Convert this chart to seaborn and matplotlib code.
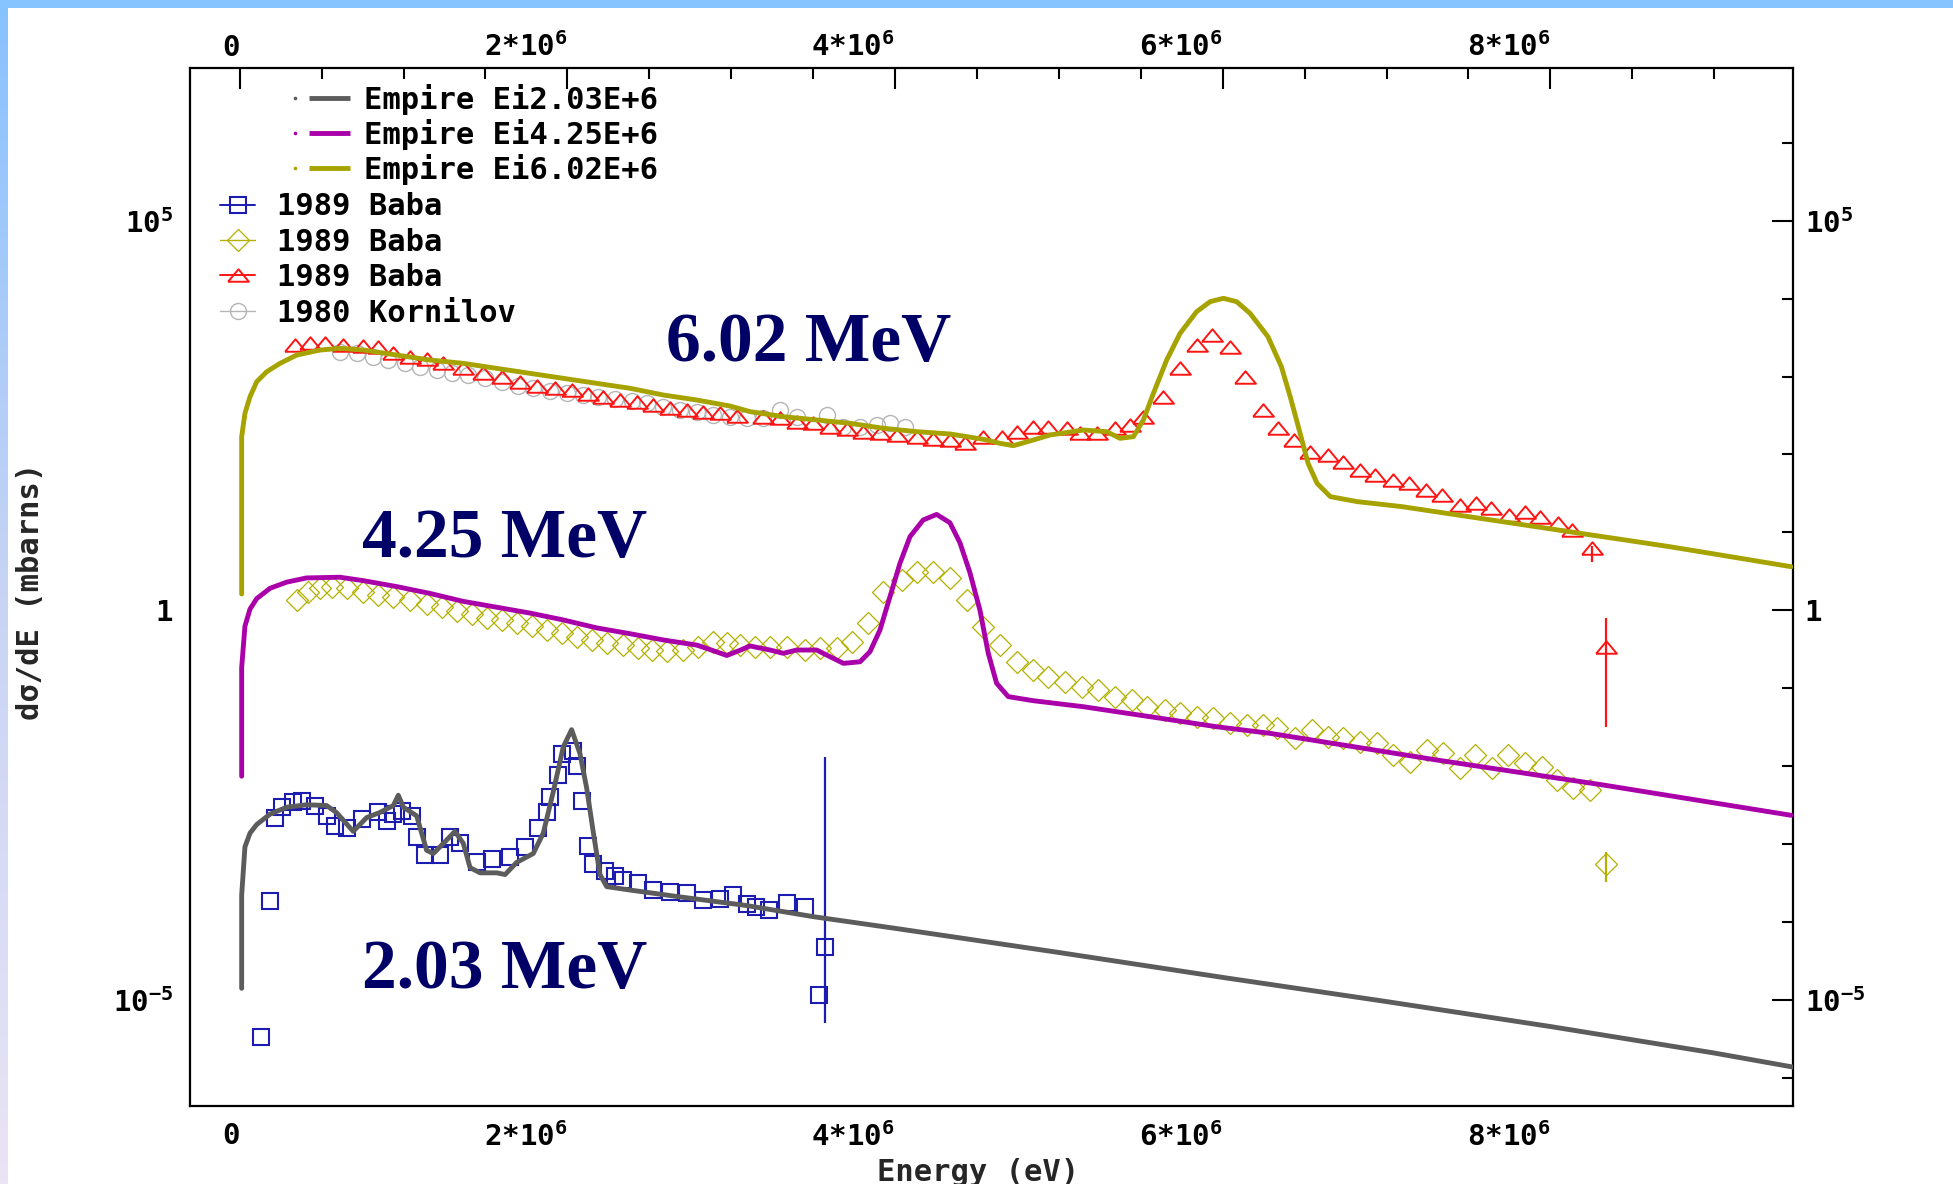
import numpy as np
import matplotlib
matplotlib.use("Agg")
import matplotlib.pyplot as plt
import seaborn as sns
from matplotlib.lines import Line2D
from matplotlib.patches import Rectangle
from matplotlib.colors import LinearSegmentedColormap
from matplotlib.ticker import FixedLocator, FixedFormatter, NullFormatter, NullLocator

# Outgoing neutron energy in MeV; cross sections as log10(dσ/dE / mbarns)
empire_203_E = [0.012, 0.012, 0.032, 0.063, 0.104, 0.185, 0.287, 0.408, 0.53, 0.59,
                0.693, 0.775, 0.856, 0.938, 0.968, 0.999, 1.08, 1.141, 1.182, 1.243,
                1.314, 1.365, 1.406, 1.467, 1.569, 1.62, 1.69, 1.792, 1.853, 1.914,
                1.975, 2.026, 2.077, 2.118, 2.159, 2.199, 2.24, 2.383, 2.688, 3.095,
                3.5, 4.0, 5.0, 6.0, 7.0, 8.0, 9.0, 9.48]
empire_203_lg = [-4.85, -3.655, -3.035, -2.858, -2.748, -2.615, -2.526, -2.495, -2.504, -2.593,
                 -2.836, -2.659, -2.593, -2.504, -2.372, -2.526, -2.637, -3.079, -3.12, -2.991,
                 -2.836, -2.991, -3.301, -3.368, -3.368, -3.39, -3.235, -3.12, -2.858, -2.327,
                 -1.752, -1.531, -1.84, -2.283, -2.858, -3.39, -3.545, -3.589, -3.677, -3.788,
                 -3.93, -4.08, -4.39, -4.71, -5.02, -5.34, -5.68, -5.86]

empire_425_E = [0.012, 0.012, 0.032, 0.063, 0.104, 0.185, 0.287, 0.408, 0.612, 0.755,
                0.958, 1.162, 1.365, 1.569, 1.772, 1.975, 2.179, 2.383, 2.586, 2.79,
                2.871, 2.973, 3.054, 3.115, 3.237, 3.318, 3.4, 3.522, 3.603, 3.685,
                3.786, 3.847, 3.908, 3.969, 4.03, 4.091, 4.172, 4.254, 4.335, 4.396,
                4.457, 4.518, 4.569, 4.62, 4.691, 4.843, 5.148, 5.555, 5.962, 6.289,
                7.306, 8.323, 9.47]
empire_425_lg = [-2.128, -0.735, -0.203, 0.017, 0.151, 0.283, 0.362, 0.416, 0.425, 0.381,
                 0.305, 0.217, 0.115, 0.04, -0.035, -0.123, -0.225, -0.3, -0.38, -0.446,
                 -0.503, -0.579, -0.512, -0.457, -0.509, -0.551, -0.509, -0.509, -0.595, -0.68,
                 -0.66, -0.53, -0.252, 0.175, 0.604, 0.945, 1.16, 1.231, 1.124, 0.868,
                 0.484, 0.004, -0.551, -0.936, -1.107, -1.159, -1.236, -1.364, -1.493, -1.578,
                 -1.92, -2.241, -2.63]

empire_602_E = [0.012, 0.012, 0.032, 0.063, 0.104, 0.165, 0.246, 0.348, 0.49, 0.612,
                0.755, 0.958, 1.162, 1.365, 1.569, 1.772, 1.975, 2.179, 2.383, 2.586,
                2.79, 2.992, 3.115, 3.318, 3.522, 3.725, 3.929, 4.132, 4.336, 4.539,
                4.641, 4.722, 4.844, 4.946, 5.15, 5.292, 5.373, 5.455, 5.516, 5.577,
                5.658, 5.74, 5.841, 5.923, 6.004, 6.085, 6.167, 6.276, 6.358, 6.412,
                6.467, 6.521, 6.576, 6.657, 6.821, 7.093, 7.366, 7.638, 7.911, 8.183,
                8.456, 8.728, 8.914, 9.47]
empire_602_lg = [0.21, 2.228, 2.528, 2.742, 2.934, 3.062, 3.169, 3.276, 3.34, 3.362,
                 3.34, 3.276, 3.212, 3.169, 3.105, 3.041, 2.977, 2.913, 2.849, 2.763,
                 2.699, 2.622, 2.55, 2.485, 2.443, 2.4, 2.336, 2.293, 2.263, 2.195,
                 2.143, 2.113, 2.186, 2.25, 2.314, 2.293, 2.207, 2.229, 2.443, 2.785,
                 3.212, 3.555, 3.833, 3.961, 4.004, 3.961, 3.811, 3.512, 3.127, 2.742,
                 2.314, 1.887, 1.63, 1.459, 1.395, 1.331, 1.245, 1.16, 1.074, 0.988,
                 0.903, 0.817, 0.753, 0.56]

baba_203_E = [0.133, 0.186, 0.217, 0.256, 0.328, 0.378, 0.46, 0.53, 0.582, 0.653,
              0.744, 0.846, 0.897, 0.938, 0.99, 1.049, 1.08, 1.131, 1.223, 1.284,
              1.345, 1.447, 1.538, 1.65, 1.741, 1.822, 1.873, 1.894, 1.944, 1.965,
              2.036, 2.057, 2.087, 2.128, 2.159, 2.23, 2.29, 2.34, 2.43, 2.525,
              2.626, 2.728, 2.829, 2.931, 3.012, 3.095, 3.151, 3.233, 3.341, 3.45,
              3.538, 3.573]
baba_203_lg = [-5.48, -3.723, -2.659, -2.526, -2.46, -2.44, -2.504, -2.637, -2.77, -2.79,
               -2.68, -2.593, -2.70, -2.61, -2.57, -2.637, -2.902, -3.14, -3.14, -2.902,
               -2.99, -3.235, -3.19, -3.17, -3.04, -2.79, -2.593, -2.396, -2.11, -1.84,
               -1.80, -2.0, -2.44, -3.02, -3.26, -3.346, -3.412, -3.456, -3.50, -3.589,
               -3.61, -3.633, -3.72, -3.70, -3.655, -3.766, -3.80, -3.845, -3.76, -3.80,
               -4.936, -4.316]

baba_425_E = [0.348, 0.419, 0.49, 0.561, 0.653, 0.755, 0.846, 0.938, 1.039, 1.141,
              1.233, 1.324, 1.416, 1.507, 1.599, 1.691, 1.782, 1.874, 1.965, 2.057,
              2.148, 2.24, 2.342, 2.433, 2.515, 2.606, 2.708, 2.8, 2.891, 2.972,
              3.054, 3.145, 3.237, 3.339, 3.451, 3.542, 3.644, 3.736, 3.837, 3.929,
              4.041, 4.132, 4.234, 4.336, 4.437, 4.539, 4.641, 4.743, 4.844, 4.936,
              5.038, 5.139, 5.241, 5.343, 5.444, 5.536, 5.648, 5.739, 5.841, 5.943,
              6.045, 6.147, 6.248, 6.33, 6.442, 6.543, 6.645, 6.737, 6.838, 6.94,
              7.042, 7.143, 7.245, 7.347, 7.449, 7.54, 7.642, 7.744, 7.846, 7.947,
              8.039, 8.14, 8.242, 8.34]
baba_425_lg = [0.129, 0.239, 0.284, 0.306, 0.284, 0.239, 0.195, 0.173, 0.129, 0.084,
               0.040, -0.004, -0.048, -0.093, -0.124, -0.159, -0.203, -0.247, -0.292, -0.336,
               -0.380, -0.424, -0.447, -0.478, -0.513, -0.522, -0.504, -0.469, -0.402, -0.424,
               -0.447, -0.466, -0.466, -0.466, -0.509, -0.487, -0.487, -0.402, -0.166, 0.240,
               0.390, 0.496, 0.496, 0.411, 0.133, -0.209, -0.444, -0.658, -0.765, -0.851,
               -0.915, -0.979, -1.022, -1.107, -1.150, -1.236, -1.279, -1.321, -1.364, -1.386,
               -1.45, -1.471, -1.471, -1.514, -1.642, -1.535, -1.621, -1.642, -1.685, -1.707,
               -1.856, -1.942, -1.792, -1.835, -2.027, -1.856, -2.027, -1.856, -1.963, -2.006,
               -2.177, -2.284, -2.305, -3.255]

baba_602_E = [0.338, 0.429, 0.521, 0.633, 0.755, 0.846, 0.938, 1.04, 1.141, 1.243,
              1.365, 1.487, 1.599, 1.711, 1.813, 1.925, 2.026, 2.128, 2.22, 2.321,
              2.423, 2.525, 2.627, 2.728, 2.83, 2.932, 3.033, 3.196, 3.298, 3.4,
              3.502, 3.603, 3.705, 3.807, 3.908, 4.01, 4.132, 4.234, 4.336, 4.427,
              4.539, 4.651, 4.743, 4.844, 4.936, 5.048, 5.129, 5.231, 5.343, 5.434,
              5.516, 5.638, 5.74, 5.841, 5.935, 6.044, 6.134, 6.243, 6.336, 6.434,
              6.535, 6.644, 6.734, 6.835, 6.93, 7.039, 7.134, 7.243, 7.339, 7.448,
              7.543, 7.638, 7.747, 7.843, 7.938, 8.047, 8.129, 8.251, 8.34]
baba_602_lg = [3.405, 3.426, 3.435, 3.405, 3.392, 3.383, 3.298, 3.255, 3.221, 3.169,
               3.105, 3.041, 2.99, 2.934, 2.878, 2.849, 2.827, 2.776, 2.733, 2.699,
               2.677, 2.635, 2.592, 2.571, 2.549, 2.528, 2.494, 2.485, 2.464, 2.421,
               2.4, 2.357, 2.323, 2.293, 2.272, 2.25, 2.229, 2.195, 2.186, 2.152,
               2.229, 2.229, 2.293, 2.357, 2.357, 2.336, 2.272, 2.272, 2.336, 2.378,
               2.485, 2.742, 3.106, 3.405, 3.533, 3.384, 2.999, 2.571, 2.336, 2.186,
               2.036, 1.994, 1.908, 1.801, 1.737, 1.673, 1.63, 1.544, 1.48, 1.352,
               1.373, 1.309, 1.224, 1.266, 1.202, 1.117, 1.031, 0.796, -0.466]

kornilov_E = [0.612, 0.714, 0.816, 0.907, 1.009, 1.1, 1.202, 1.294, 1.396, 1.497,
              1.599, 1.701, 1.792, 1.894, 1.996, 2.098, 2.189, 2.291, 2.393, 2.484,
              2.586, 2.688, 2.79, 2.891, 2.993, 3.094, 3.196, 3.298, 3.4, 3.583,
              3.685, 3.786, 3.888, 3.97, 4.061]
kornilov_lg = [3.319, 3.298, 3.255, 3.212, 3.178, 3.127, 3.084, 3.05, 3.02, 2.977,
               2.934, 2.878, 2.849, 2.819, 2.793, 2.763, 2.733, 2.707, 2.69, 2.656,
               2.613, 2.571, 2.549, 2.506, 2.485, 2.464, 2.464, 2.571, 2.485, 2.507,
               2.357, 2.357, 2.378, 2.4, 2.357]

# Large error bars: (E, log10 value, log10 lower end, log10 upper end)
errbar_203 = (3.573, -4.316, -5.30, -1.878)
errbar_425 = (8.34, -3.255, -3.482, -3.097)
errbar_602 = [(8.251, 0.796, 0.625, 0.83), (8.34, -0.466, -1.493, -0.102)]

legend_empire = ["Empire Ei2.03E+6", "Empire Ei4.25E+6", "Empire Ei6.02E+6"]
legend_exp = ["1989 Baba", "1989 Baba", "1989 Baba", "1980 Kornilov"]
curve_tags = ["6.02 MeV", "4.25 MeV", "2.03 MeV"]

x_ticks = [0, 2e6, 4e6, 6e6, 8e6]
x_ticklabels = ["0", "2*10$^{6}$", "4*10$^{6}$", "6*10$^{6}$", "8*10$^{6}$"]
y_ticks = [1e-5, 1.0, 1e5]
y_ticklabels = ["10$^{-5}$", "1", "10$^{5}$"]

C_GRAY = "#5c5c5c"
C_PURPLE = "#aa00aa"
C_OLIVE = "#a6a300"
C_BLUE = "#1c1cb0"
C_DIAM = "#b3b000"
C_RED = "#ff1414"
C_KORN = "#b4b4b4"
C_NAVY = "#000066"

TRI = [(-1.0, -0.6), (1.0, -0.6), (0.0, 0.6), (-1.0, -0.6)]

MONO = "DejaVu Sans Mono"
LABEL_SIZE = 21

sns.set_theme(style="white")
plt.rcParams["font.family"] = [MONO, "DejaVu Sans"]
plt.rcParams["font.weight"] = "bold"
plt.rcParams["text.color"] = "black"
plt.rcParams["axes.edgecolor"] = "black"
plt.rcParams["xtick.color"] = "black"
plt.rcParams["ytick.color"] = "black"
plt.rcParams["mathtext.fontset"] = "custom"
plt.rcParams["mathtext.rm"] = f"{MONO}:bold"
plt.rcParams["mathtext.it"] = f"{MONO}:bold"
plt.rcParams["mathtext.bf"] = f"{MONO}:bold"
plt.rcParams["mathtext.default"] = "rm"

fig = plt.figure(figsize=(19.53, 11.84), dpi=100)
fig.patch.set_facecolor("white")

# page border: blue strip on top, blue-to-lavender strip on the left
fig.add_artist(Rectangle((0, 1 - 8 / 1184), 1, 8 / 1184, transform=fig.transFigure,
                         facecolor="#86c4ff", edgecolor="none", zorder=0))
edge = fig.add_axes([0, 0, 8 / 1953, 1 - 8 / 1184])
edge.imshow(np.linspace(0, 1, 256).reshape(-1, 1), aspect="auto",
            cmap=LinearSegmentedColormap.from_list("edge", ["#88c2fe", "#c8d4f4", "#eae4f4"]))
edge.set_axis_off()

ax = fig.add_axes([0.09713, 0.06613, 0.82079, 0.87669])
ax.set_yscale("log")
ax.set_xlim(-0.3052e6, 9.479e6)
ax.set_ylim(10 ** -6.356, 10 ** 6.963)


def draw_points(E, lg, marker, color, ms, mew):
    sns.lineplot(x=np.asarray(E) * 1e6, y=np.power(10.0, lg), ax=ax,
                 estimator=None, sort=False, legend=False,
                 linestyle="none", marker=marker, markersize=ms,
                 markerfacecolor="none", markeredgecolor=color,
                 markeredgewidth=mew, color=color, zorder=3)


def draw_curve(E, lg, color):
    sns.lineplot(x=np.asarray(E) * 1e6, y=np.power(10.0, lg), ax=ax,
                 estimator=None, sort=False, legend=False,
                 color=color, linewidth=3.5, zorder=4)


def draw_errbar(e, v, lo, hi, color):
    y = 10.0 ** v
    ax.errorbar([e * 1e6], [y], yerr=[[y - 10.0 ** lo], [10.0 ** hi - y]],
                fmt="none", ecolor=color, elinewidth=1.6, capsize=0, zorder=3)


MS = dict(kornilov=11.5, tri=15, diam=11, sq=12)

draw_points(kornilov_E, kornilov_lg, "o", C_KORN, MS["kornilov"], 1.0)
draw_points(baba_602_E, baba_602_lg, TRI, C_RED, MS["tri"], 1.4)
draw_points(baba_425_E, baba_425_lg, "D", C_DIAM, MS["diam"], 0.9)
draw_points(baba_203_E, baba_203_lg, "s", C_BLUE, MS["sq"], 1.5)

draw_errbar(*errbar_203, C_BLUE)
draw_errbar(*errbar_425, C_DIAM)
for eb in errbar_602:
    draw_errbar(*eb, C_RED)

draw_curve(empire_203_E, empire_203_lg, C_GRAY)
draw_curve(empire_425_E, empire_425_lg, C_PURPLE)
draw_curve(empire_602_E, empire_602_lg, C_OLIVE)

# energy tags next to each family of curves
tag_font = dict(family="Liberation Serif", weight="bold", size=50, color=C_NAVY,
                ha="center", va="baseline", zorder=5)
ax.text(3.471e6, 10 ** 3.2, curve_tags[0], **tag_font)
ax.text(1.616e6, 10 ** 0.688, curve_tags[1], **tag_font)
ax.text(1.616e6, 10 ** -4.842, curve_tags[2], **tag_font)

# ticks on all four sides, pointing inwards; labels on bottom/left here
ax.xaxis.set_major_locator(FixedLocator(x_ticks))
ax.xaxis.set_major_formatter(FixedFormatter(x_ticklabels))
ax.xaxis.set_minor_locator(FixedLocator(np.arange(0.5e6, 9.5e6, 0.5e6)))
ax.yaxis.set_major_locator(FixedLocator(y_ticks))
ax.yaxis.set_major_formatter(FixedFormatter(y_ticklabels))
ax.yaxis.set_minor_locator(FixedLocator([10.0 ** k for k in range(-6, 7)]))
ax.yaxis.set_minor_formatter(NullFormatter())
ax.tick_params(which="both", direction="in", top=True, right=True,
               labeltop=False, labelright=False, width=1.5, labelsize=LABEL_SIZE, pad=12)
ax.tick_params(which="major", length=15)
ax.tick_params(which="minor", length=8)
for t in ax.xaxis.get_major_ticks():
    t.label1.set_horizontalalignment("right")
for sp in ax.spines.values():
    sp.set_linewidth(1.6)
    sp.set_color("black")

# duplicate labels on top and right, with their own spacing
secx = ax.secondary_xaxis("top")
secx.xaxis.set_major_locator(FixedLocator(x_ticks))
secx.xaxis.set_major_formatter(FixedFormatter(x_ticklabels))
secx.xaxis.set_minor_locator(NullLocator())
secx.tick_params(which="both", length=0, pad=4, labelsize=LABEL_SIZE)
for t in secx.xaxis.get_major_ticks():
    t.label1.set_horizontalalignment("right")
    t.label2.set_horizontalalignment("right")
for sp in secx.spines.values():
    sp.set_visible(False)

secy = ax.secondary_yaxis("right")
secy.yaxis.set_major_locator(FixedLocator(y_ticks))
secy.yaxis.set_major_formatter(FixedFormatter(y_ticklabels))
secy.yaxis.set_minor_locator(NullLocator())
secy.yaxis.set_minor_formatter(NullFormatter())
secy.tick_params(which="both", length=0, pad=8.5, labelsize=LABEL_SIZE)
for sp in secy.spines.values():
    sp.set_visible(False)

ax.set_xlabel("Energy (eV)", fontsize=22, fontweight="bold")
ax.xaxis.set_label_coords(0.4916, -0.0504)
ax.set_ylabel("dσ/dE (mbarns)", fontsize=22, fontweight="bold")
ax.yaxis.set_label_coords(-0.0903, 0.4953)


class DotLineHandler:
    """Legend key: a tiny point followed by a short line segment."""

    def legend_artist(self, legend, orig_handle, fontsize, handlebox):
        x0, y0 = handlebox.xdescent, handlebox.ydescent
        w, h = handlebox.width, handlebox.height
        c = orig_handle.get_color()
        dot = Line2D([x0 + 0.08 * w], [y0 + h / 2], marker="o", ms=1.6,
                     linestyle="none", color=c)
        seg = Line2D([x0 + 0.32 * w, x0 + w], [y0 + h / 2] * 2, color=c,
                     linewidth=orig_handle.get_linewidth(), solid_capstyle="butt")
        handlebox.add_artist(dot)
        handlebox.add_artist(seg)
        return seg


legend_prop = dict(family=MONO, weight="bold", size=22)

empire_handles = [Line2D([], [], color=c, linewidth=3.5) for c in (C_GRAY, C_PURPLE, C_OLIVE)]
leg1 = ax.legend(empire_handles, legend_empire, loc="upper left",
                 bbox_to_anchor=(0.0626, 0.9842), frameon=False, borderpad=0,
                 borderaxespad=0, handlelength=1.96, handletextpad=0.46,
                 labelspacing=0.13, prop=legend_prop,
                 handler_map={Line2D: DotLineHandler()})
ax.add_artist(leg1)

exp_handles = [
    Line2D([], [], color=C_BLUE, marker="s", ms=MS["sq"], mfc="none", mec=C_BLUE, mew=1.5, lw=1.4),
    Line2D([], [], color=C_DIAM, marker="D", ms=MS["diam"], mfc="none", mec=C_DIAM, mew=0.9, lw=1.0),
    Line2D([], [], color=C_RED, marker=TRI, ms=MS["tri"], mfc="none", mec=C_RED, mew=1.4, lw=1.4),
    Line2D([], [], color=C_KORN, marker="o", ms=MS["kornilov"], mfc="none", mec=C_KORN, mew=1.0, lw=1.0),
]
leg2 = ax.legend(exp_handles, legend_exp, loc="upper left",
                 bbox_to_anchor=(0.0189, 0.8800), frameon=False, borderpad=0,
                 borderaxespad=0, handlelength=1.15, handletextpad=0.70,
                 labelspacing=0.21, prop=legend_prop)
for lg in (leg1, leg2):
    for txt in lg.get_texts():
        txt.set_color("black")

fig.savefig("out.png", dpi=100, facecolor="white")
